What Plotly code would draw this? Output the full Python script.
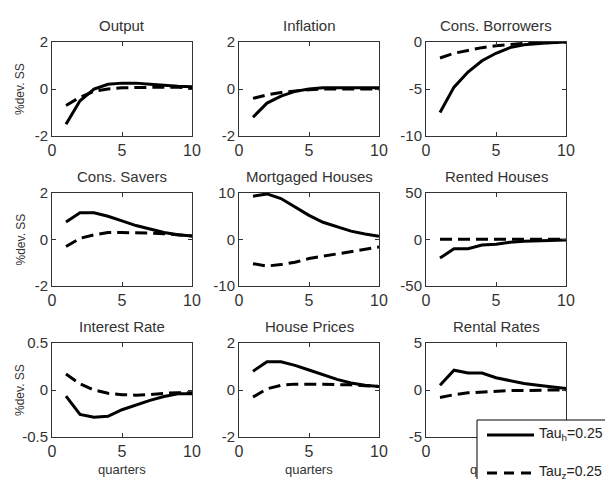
import plotly.graph_objects as go

quarters = [1, 2, 3, 4, 5, 6, 7, 8, 9, 10]

titles = ["Output", "Inflation", "Cons. Borrowers",
          "Cons. Savers", "Mortgaged Houses", "Rented Houses",
          "Interest Rate", "House Prices", "Rental Rates"]

output_h = [-1.5, -0.5, 0.0, 0.2, 0.25, 0.25, 0.2, 0.15, 0.12, 0.1]
output_z = [-0.7, -0.35, -0.1, 0.0, 0.05, 0.07, 0.08, 0.08, 0.07, 0.06]
inflation_h = [-1.2, -0.6, -0.3, -0.1, 0.0, 0.05, 0.05, 0.05, 0.05, 0.05]
inflation_z = [-0.4, -0.25, -0.15, -0.08, -0.03, 0.0, 0.0, 0.0, 0.0, 0.0]
consb_h = [-7.5, -4.8, -3.2, -2.0, -1.2, -0.6, -0.3, -0.15, -0.05, 0.0]
consb_z = [-1.7, -1.2, -0.9, -0.6, -0.4, -0.25, -0.15, -0.1, -0.05, -0.03]
conss_h = [0.75, 1.15, 1.15, 1.0, 0.8, 0.6, 0.45, 0.3, 0.2, 0.15]
conss_z = [-0.3, 0.05, 0.2, 0.3, 0.3, 0.3, 0.28, 0.25, 0.2, 0.15]
mort_h = [9.3, 9.8, 8.8, 7.0, 5.2, 3.7, 2.8, 1.8, 1.2, 0.7]
mort_z = [-5.2, -5.7, -5.4, -4.9, -4.1, -3.6, -3.2, -2.6, -2.2, -1.6]
rent_h = [-20, -10, -10, -6, -5, -3, -2, -1.5, -1, -0.5]
rent_z = [0.3, 0.3, 0.3, 0.3, 0.3, 0.3, 0.3, 0.3, 0.3, 0.3]
irate_h = [-0.065, -0.26, -0.29, -0.28, -0.21, -0.16, -0.11, -0.07, -0.04, -0.04]
irate_z = [0.17, 0.065, 0.0, -0.035, -0.05, -0.055, -0.05, -0.035, -0.03, -0.03]
hprice_h = [0.8, 1.2, 1.2, 1.05, 0.85, 0.65, 0.45, 0.3, 0.2, 0.15]
hprice_z = [-0.3, 0.05, 0.2, 0.25, 0.25, 0.25, 0.25, 0.22, 0.18, 0.15]
rrate_h = [0.5, 2.1, 1.8, 1.8, 1.3, 1.0, 0.7, 0.5, 0.3, 0.15]
rrate_z = [-0.8, -0.5, -0.3, -0.2, -0.1, -0.05, -0.05, 0.0, 0.0, 0.0]

series_h = [output_h, inflation_h, consb_h, conss_h, mort_h, rent_h, irate_h, hprice_h, rrate_h]
series_z = [output_z, inflation_z, consb_z, conss_z, mort_z, rent_z, irate_z, hprice_z, rrate_z]

y_ticks = [[-2, 0, 2], [-2, 0, 2], [-10, -5, 0],
           [-2, 0, 2], [-10, 0, 10], [-50, 0, 50],
           [-0.5, 0, 0.5], [-2, 0, 2], [-5, 0, 5]]
x_ticks = [0, 5, 10]

legend_names = ["Tau<sub>h</sub>=0.25", "Tau<sub>z</sub>=0.25"]
ylabel = "%dev. SS"
xlabel = "quarters"

# page body has an 8px margin; work in window pixels and convert
OFF = 8
W, H = 613, 479


def px(x):
    return (x - OFF) / W


def py(y):
    return 1 - (y - OFF) / H


col_px = [(52, 192), (239, 379), (426, 566)]
row_px = [(42, 136), (193, 286), (343, 437)]

FONT = "Liberation Sans, Arial, sans-serif"
TXT = "#333333"

fig = go.Figure()
layout = dict(
    width=W, height=H, margin=dict(l=0, r=0, t=0, b=0, autoexpand=False),
    paper_bgcolor="white", plot_bgcolor="white",
    font=dict(family=FONT, color=TXT, size=15),
    showlegend=False,
)
annotations = []
shapes = []

for i in range(9):
    r, c = divmod(i, 3)
    n = "" if i == 0 else str(i + 1)
    x0, x1 = col_px[c]
    y0, y1 = row_px[r]
    xd = [px(x0), px(x1)]
    yd = [py(y1), py(y0)]
    yt = y_ticks[i]
    layout["xaxis" + n] = dict(
        domain=xd, range=[0, 10], anchor="y" + n,
        tickmode="array", tickvals=x_ticks, ticktext=[str(v) for v in x_ticks],
        ticks="inside", ticklen=4, tickcolor="#333", showgrid=False, zeroline=False,
        showline=True, linecolor="#333", linewidth=1, mirror="ticks",
        tickfont=dict(size=16, color=TXT, family=FONT),
    )
    layout["yaxis" + n] = dict(
        domain=yd, range=[yt[0], yt[-1]], anchor="x" + n,
        tickmode="array", tickvals=yt, ticktext=[f"{v:g}" for v in yt],
        ticks="inside", ticklen=4, tickcolor="#333", showgrid=False, zeroline=False,
        showline=True, linecolor="#333", linewidth=1, mirror="ticks",
        tickfont=dict(size=15, color=TXT, family=FONT),
    )
    fig.add_trace(go.Scatter(
        x=quarters, y=series_h[i], mode="lines", xaxis="x" + n, yaxis="y" + n,
        line=dict(color="black", width=3), name=legend_names[0]))
    fig.add_trace(go.Scatter(
        x=quarters, y=series_z[i], mode="lines", xaxis="x" + n, yaxis="y" + n,
        line=dict(color="black", width=3, dash="12px,6px"), name=legend_names[1]))
    annotations.append(dict(
        text=titles[i], x=(xd[0] + xd[1]) / 2, y=py(y0 - 17),
        xref="paper", yref="paper", showarrow=False, xanchor="center", yanchor="middle",
        font=dict(size=15, color=TXT, family=FONT)))
    if c == 0:
        annotations.append(dict(
            text=ylabel, x=px(20), y=(yd[0] + yd[1]) / 2, xref="paper", yref="paper",
            showarrow=False, textangle=-90, xanchor="center", yanchor="middle",
            font=dict(size=12, color=TXT, family=FONT)))
    if r == 2:
        if c < 2:
            annotations.append(dict(
                text=xlabel, x=(xd[0] + xd[1]) / 2, y=py(469), xref="paper", yref="paper",
                showarrow=False, xanchor="center", yanchor="middle",
                font=dict(size=13, color=TXT, family=FONT)))
        else:
            # partially hidden behind the legend box: only the first letter shows
            annotations.append(dict(
                text=xlabel, x=px(469), y=py(469), xref="paper", yref="paper",
                showarrow=False, xanchor="left", yanchor="middle", align="left",
                width=8, borderpad=0,
                font=dict(size=13, color=TXT, family=FONT)))

# legend box (clipped at window edges as in the reference)
shapes.append(dict(type="rect", xref="paper", yref="paper", layer="above",
                   x0=px(477), x1=px(640), y0=py(500), y1=py(420),
                   fillcolor="white", line=dict(color="black", width=1)))
leg_y = [435, 473]
leg_dash = ["solid", "10px,7px"]
for k in range(2):
    shapes.append(dict(type="line", xref="paper", yref="paper", layer="above",
                       x0=px(487), x1=px(534), y0=py(leg_y[k]), y1=py(leg_y[k]),
                       line=dict(color="black", width=3, dash=leg_dash[k])))
    annotations.append(dict(
        text=legend_names[k], x=px(537), y=py(leg_y[k] - 1), xref="paper", yref="paper",
        showarrow=False, xanchor="left", yanchor="middle",
        font=dict(size=14, color="#222", family=FONT)))

layout["annotations"] = annotations
layout["shapes"] = shapes
fig.update_layout(**layout)
fig.write_html("out.html")
